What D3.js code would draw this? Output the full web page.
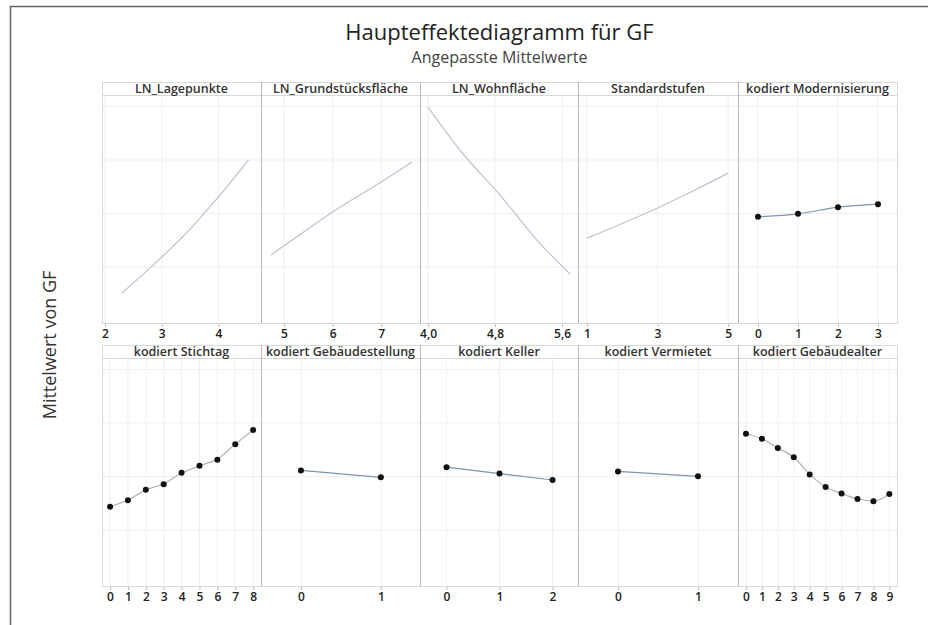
<!DOCTYPE html>
<meta charset="utf-8">
<style>
    body { margin: 0; background: #fff; }
    svg { display: block; }
    text { font-family: "Open Sans", "Noto Sans", sans-serif; }
</style>
<svg id="chart" width="928" height="625"></svg>
<script src="https://cdn.jsdelivr.net/npm/d3@7/dist/d3.min.js"></script>
<script>
    // Fitted means (GF, arbitrary log units)
    var panelNames = ["LN_Lagepunkte", "LN_Grundstücksfläche", "LN_Wohnfläche", "Standardstufen", "kodiert Modernisierung",
        "kodiert Stichtag", "kodiert Gebäudestellung", "kodiert Keller", "kodiert Vermietet", "kodiert Gebäudealter"];

    var lagepunkteX = [2.30, 3.0, 3.5, 4.0, 4.53];
    var lagepunkteY = [11.903, 12.037, 12.142, 12.262, 12.400];
    var grundX = [4.73, 5.5, 6.0, 7.0, 7.63];
    var grundY = [12.045, 12.143, 12.206, 12.318, 12.392];
    var wohnX = [4.0, 4.4, 4.86, 5.3, 5.695];
    var wohnY = [12.598, 12.430, 12.269, 12.101, 11.974];
    var standardX = [1, 2, 3, 4, 5];
    var standardY = [12.108, 12.163, 12.221, 12.284, 12.351];
    var modernX = [0, 1, 2, 3];
    var modernY = [12.188, 12.199, 12.224, 12.235];
    var stichtagX = [0, 1, 2, 3, 4, 5, 6, 7, 8];
    var stichtagY = [12.087, 12.111, 12.151, 12.171, 12.214, 12.240, 12.263, 12.321, 12.374];
    var stellungX = [0, 1];
    var stellungY = [12.223, 12.197];
    var kellerX = [0, 1, 2];
    var kellerY = [12.235, 12.211, 12.187];
    var vermietetX = [0, 1];
    var vermietetY = [12.219, 12.201];
    var alterX = [0, 1, 2, 3, 4, 5, 6, 7, 8, 9];
    var alterY = [12.360, 12.341, 12.307, 12.272, 12.208, 12.161, 12.137, 12.116, 12.108, 12.135];

    var xTicks = [[2, 3, 4], [5, 6, 7], [4.0, 4.8, 5.6], [1, 3, 5], [0, 1, 2, 3],
        [0, 1, 2, 3, 4, 5, 6, 7, 8], [0, 1], [0, 1, 2], [0, 1], [0, 1, 2, 3, 4, 5, 6, 7, 8, 9]];
    var xTickLabels = [["2", "3", "4"], ["5", "6", "7"], ["4,0", "4,8", "5,6"], ["1", "3", "5"], ["0", "1", "2", "3"],
        ["0", "1", "2", "3", "4", "5", "6", "7", "8"], ["0", "1"], ["0", "1", "2"], ["0", "1"],
        ["0", "1", "2", "3", "4", "5", "6", "7", "8", "9"]];
    var yTicks = [12.0, 12.2, 12.4, 12.6];

    var seriesX = [lagepunkteX, grundX, wohnX, standardX, modernX, stichtagX, stellungX, kellerX, vermietetX, alterX];
    var seriesY = [lagepunkteY, grundY, wohnY, standardY, modernY, stichtagY, stellungY, kellerY, vermietetY, alterY];

    // layout
    var xDomains = [[1.947, 4.75], [4.526, 7.80], [3.904, 5.79], [0.745, 5.28], [-0.5, 3.475],
        [-0.45, 8.44], [-0.5, 1.49], [-0.5, 2.48], [-0.5, 1.5], [-0.5, 9.48]];
    var colEdges = [102, 261, 420, 578, 738, 897];
    var rowTops = [82, 345];
    var headerH = 13, plotH = 228;
    var yDomain = [11.791, 12.643];

    var svg = d3.select("#chart");

    // outer frame
    svg.append("path")
        .attr("d", "M10.5,625V6.5H928")
        .attr("fill", "none")
        .attr("stroke", "#666")
        .attr("stroke-width", 1.5);

    svg.append("text")
        .attr("x", 499.5).attr("y", 40)
        .attr("text-anchor", "middle")
        .attr("font-size", 22)
        .attr("font-weight", 500)
        .attr("fill", "#222")
        .text("Haupteffektediagramm für GF");
    svg.append("text")
        .attr("x", 499.5).attr("y", 63)
        .attr("text-anchor", "middle")
        .attr("font-size", 16)
        .attr("fill", "#444")
        .text("Angepasste Mittelwerte");

    svg.append("text")
        .attr("transform", "translate(56,345) rotate(-90)")
        .attr("text-anchor", "middle")
        .attr("font-size", 18)
        .attr("fill", "#333")
        .text("Mittelwert von GF");

    var line = d3.line();

    panelNames.forEach(function (name, i) {
        var row = Math.floor(i / 5), col = i % 5;
        var x0 = colEdges[col], x1 = colEdges[col + 1];
        var top = rowTops[row];
        var plotTop = top + headerH, plotBottom = plotTop + plotH;

        var x = d3.scaleLinear().domain(xDomains[i]).range([x0, x1]);
        var y = d3.scaleLinear().domain(yDomain).range([plotBottom, plotTop]);

        var g = svg.append("g");

        // grid
        g.selectAll(".vg").data(xTicks[i]).enter().append("line")
            .attr("x1", d => x(d)).attr("x2", d => x(d))
            .attr("y1", plotTop).attr("y2", plotBottom)
            .attr("stroke", "#efefef");
        g.selectAll(".hg").data(yTicks).enter().append("line")
            .attr("x1", x0).attr("x2", x1)
            .attr("y1", d => y(d)).attr("y2", d => y(d))
            .attr("stroke", "#efefef");

        // header + frame
        g.append("rect")
            .attr("x", x0 + 0.5).attr("y", top + 0.5)
            .attr("width", x1 - x0).attr("height", headerH)
            .attr("fill", "#fff").attr("stroke", "#d8d8d8");
        g.append("rect")
            .attr("x", x0 + 0.5).attr("y", plotTop + 0.5)
            .attr("width", x1 - x0).attr("height", plotH)
            .attr("fill", "none").attr("stroke", "#d8d8d8");
        if (col > 0) {
            g.append("line")
                .attr("x1", x0 + 0.5).attr("x2", x0 + 0.5)
                .attr("y1", top).attr("y2", plotBottom)
                .attr("stroke", "#b8b8b8");
        }
        g.append("text")
            .attr("x", (x0 + x1) / 2).attr("y", top + 11)
            .attr("text-anchor", "middle")
            .attr("font-size", 12.5)
            .attr("font-weight", 600)
            .attr("fill", "#333")
            .text(name);

        // x axis
        var axis = d3.axisBottom(x)
            .tickValues(xTicks[i])
            .tickFormat((d, k) => xTickLabels[i][k])
            .tickSize(3)
            .tickPadding(2);
        var ag = g.append("g").attr("transform", "translate(0," + (plotBottom + 1) + ")").call(axis);
        ag.select(".domain").remove();
        ag.selectAll(".tick line").attr("stroke", "#bbb");
        ag.selectAll(".tick text")
            .attr("font-size", 12)
            .attr("font-weight", 600)
            .attr("fill", "#222")
            .style("font-family", '"Open Sans", sans-serif');

        // data
        var pts = seriesX[i].map((v, k) => [x(v), y(seriesY[i][k])]);
        var discrete = i >= 4;
        var curve = (i === 5) ? d3.curveLinear : d3.curveMonotoneX;
        var color = (i < 4) ? "#bcc3cf" : (i === 5 || i === 9) ? "#b0b4ba" : "#7d95b3";
        g.append("path")
            .attr("d", line.curve(curve)(pts))
            .attr("fill", "none")
            .attr("stroke", color)
            .attr("stroke-width", 1.2);
        if (discrete) {
            g.selectAll(".pt").data(pts).enter().append("circle")
                .attr("cx", d => d[0]).attr("cy", d => d[1])
                .attr("r", 3)
                .attr("fill", "#111");
        }
    });
</script>
